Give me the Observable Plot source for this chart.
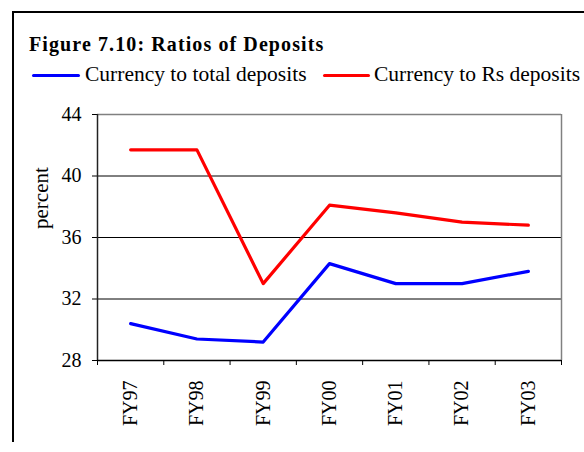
<!DOCTYPE html>
<html><head><meta charset="utf-8">
<script src="https://cdn.jsdelivr.net/npm/d3@7"></script>
<script src="https://cdn.jsdelivr.net/npm/@observablehq/plot@0.6"></script>
<style>
html,body{margin:0;padding:0;background:#fff;overflow:hidden;}
#wrap{position:relative;width:584px;height:452px;overflow:hidden;background:#fff;font-family:"Liberation Serif","Times New Roman",serif;color:#000;}
#frame{position:absolute;left:12px;top:11px;width:600px;height:431px;border-top:2px solid #000;border-left:2px solid #000;box-sizing:border-box;}
#title{position:absolute;left:29px;top:34px;font-size:20px;line-height:20px;font-weight:bold;letter-spacing:1.1px;white-space:nowrap;}
.sw{position:absolute;height:3px;top:73.5px;border-radius:1.5px;}
.lt{position:absolute;top:63px;font-size:21.5px;line-height:22px;white-space:nowrap;}
#chart{position:absolute;left:0;top:96px;}
#chart svg text{font-family:"Liberation Serif","Times New Roman",serif !important;font-variant:normal !important;}
</style></head>
<body><div id="wrap"><div id="frame"></div><div id="title"></div><div id="legend"></div><div id="chart"></div></div>
<script>
const titleText = "Figure 7.10: Ratios of Deposits";
const years = ["FY97", "FY98", "FY99", "FY00", "FY01", "FY02", "FY03"];
const currencyToTotal = [30.4, 29.4, 29.2, 34.3, 33.0, 33.0, 33.8];
const currencyToRs = [41.7, 41.7, 33.0, 38.1, 37.6, 37.0, 36.8];
const seriesNames = ["Currency to total deposits", "Currency to Rs deposits"];
const seriesColors = ["#0000ff", "#ff0000"];
const yTicks = [28, 32, 36, 40, 44];
const yLabel = "percent";

document.getElementById("title").textContent = titleText;

// legend
const legend = document.getElementById("legend");
const swLeft = [32, 323], swWidth = [48, 47], txtLeft = [85, 374];
seriesNames.forEach((name, k) => {
  const sw = document.createElement("div");
  sw.className = "sw";
  sw.style.left = swLeft[k] + "px";
  sw.style.width = swWidth[k] + "px";
  sw.style.background = seriesColors[k];
  legend.appendChild(sw);
  const t = document.createElement("div");
  t.className = "lt";
  t.style.left = txtLeft[k] + "px";
  t.textContent = name;
  legend.appendChild(t);
});

const data = years.flatMap((yr, i) => [
  {i, yr, v: currencyToTotal[i], s: seriesNames[0]},
  {i, yr, v: currencyToRs[i], s: seriesNames[1]}
]);

const font = "Liberation Serif";
const plot = Plot.plot({
  width: 584, height: 356,
  marginTop: 18, marginLeft: 97, marginRight: 23, marginBottom: 92,
  style: {background: "transparent", fontFamily: font, fontSize: "20px", color: "#000", overflow: "visible"},
  x: {type: "linear", domain: [0, years.length]},
  y: {domain: [yTicks[0], yTicks[yTicks.length - 1]]},
  color: {domain: seriesNames, range: seriesColors},
  marks: [
    Plot.ruleY(yTicks.slice(1, -1), {stroke: "#000", strokeWidth: 1}),
    Plot.ruleY([yTicks[yTicks.length - 1]], {stroke: "#808080", strokeWidth: 1.5}),
    Plot.ruleX([years.length], {stroke: "#808080", strokeWidth: 1.5}),
    Plot.axisY({ticks: yTicks, tickSize: 5, tickPadding: 11, label: null, fontSize: 20, fontFamily: font}),
    Plot.axisX({ticks: d3.range(years.length + 1), tickSize: 5, tickFormat: () => "", label: null}),
    Plot.axisX({ticks: years.map((_, i) => i + 0.5), tickSize: 0, tickPadding: 20, tickRotate: -90,
      tickFormat: d => years[Math.round(d - 0.5)], label: null, fontSize: 20, fontFamily: font}),
    Plot.ruleX([0], {stroke: "#222", strokeWidth: 1.5}),
    Plot.ruleY([yTicks[0]], {stroke: "#000", strokeWidth: 1.5}),
    Plot.line(data, {x: d => d.i + 0.5, y: "v", stroke: "s", strokeWidth: 3.2}),
    Plot.text([yLabel], {frameAnchor: "left", rotate: -90, dx: -64, dy: -8.5, lineAnchor: "top", fontSize: 21, fontFamily: font})
  ]
});
document.getElementById("chart").appendChild(plot);
</script>
</body></html>
